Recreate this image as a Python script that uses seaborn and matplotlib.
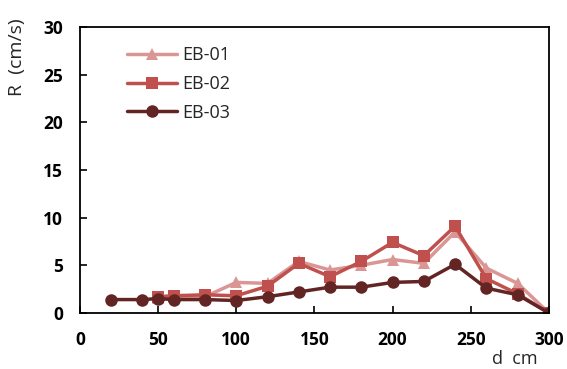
import numpy as np
import pandas as pd
import matplotlib
matplotlib.use("Agg")
import matplotlib.pyplot as plt
import seaborn as sns

# data
x01 = [50, 60, 80, 100, 120, 140, 160, 180, 200, 220, 240, 260, 280, 300]
y01 = [1.6, 1.7, 1.7, 3.2, 3.1, 5.4, 4.5, 5.0, 5.6, 5.2, 8.5, 4.7, 3.1, 0.0]
x02 = [50, 60, 80, 100, 120, 140, 160, 180, 200, 220, 240, 260, 280, 300]
y02 = [1.7, 1.8, 1.9, 1.8, 2.8, 5.2, 3.8, 5.4, 7.4, 6.0, 9.1, 3.6, 2.0, 0.0]
x03 = [20, 40, 50, 60, 80, 100, 120, 140, 160, 180, 200, 220, 240, 260, 280, 300]
y03 = [1.4, 1.4, 1.5, 1.4, 1.4, 1.3, 1.7, 2.2, 2.7, 2.7, 3.2, 3.3, 5.1, 2.6, 1.9, 0.0]
series = ["EB-01", "EB-02", "EB-03"]
colors = ["#DA9694", "#C0504D", "#632523"]
markers = ["^", "s", "o"]
xticks = [0, 50, 100, 150, 200, 250, 300]
yticks = [0, 5, 10, 15, 20, 25, 30]

df = pd.concat([
    pd.DataFrame({"d": x01, "R": y01, "s": series[0]}),
    pd.DataFrame({"d": x02, "R": y02, "s": series[1]}),
    pd.DataFrame({"d": x03, "R": y03, "s": series[2]}),
], ignore_index=True)

sns.set_theme(style="ticks")
plt.rcParams["font.family"] = ["Open Sans", "DejaVu Sans"]

fig = plt.figure(figsize=(5.67, 3.69), dpi=100)
ax = fig.add_axes([0.141, 0.152, 0.827, 0.775])

sns.lineplot(data=df, x="d", y="R", hue="s", style="s", hue_order=series,
             style_order=series, palette=colors, markers=dict(zip(series, markers)),
             dashes=False, linewidth=2.5, markersize=9, markeredgewidth=0,
             sort=False, ax=ax)

ax.set_xlim(0, 300)
ax.set_ylim(0, 30)
ax.set_xticks(xticks)
ax.set_yticks(yticks)
ax.tick_params(direction="in", length=5, width=1.2, colors="black", labelsize=12.5)
ax.tick_params(axis="x", pad=13)
ax.tick_params(axis="y", pad=12)
for lab in ax.get_xticklabels() + ax.get_yticklabels():
    lab.set_fontweight("bold")
for sp in ax.spines.values():
    sp.set_linewidth(1.3)
    sp.set_color("black")
    sp.set_visible(True)

ax.set_xlabel("d  cm", fontsize=13)
ax.xaxis.set_label_coords(0.927, -0.13)
ax.set_ylabel("R  (cm/s)", fontsize=14)
ax.yaxis.set_label_coords(-0.115, 0.895)

leg = ax.legend(loc="upper left", bbox_to_anchor=(0.065, 0.99), frameon=False,
                fontsize=13, handlelength=2.8, labelspacing=0.6, handletextpad=0.3)

fig.savefig("out.png", dpi=100)
